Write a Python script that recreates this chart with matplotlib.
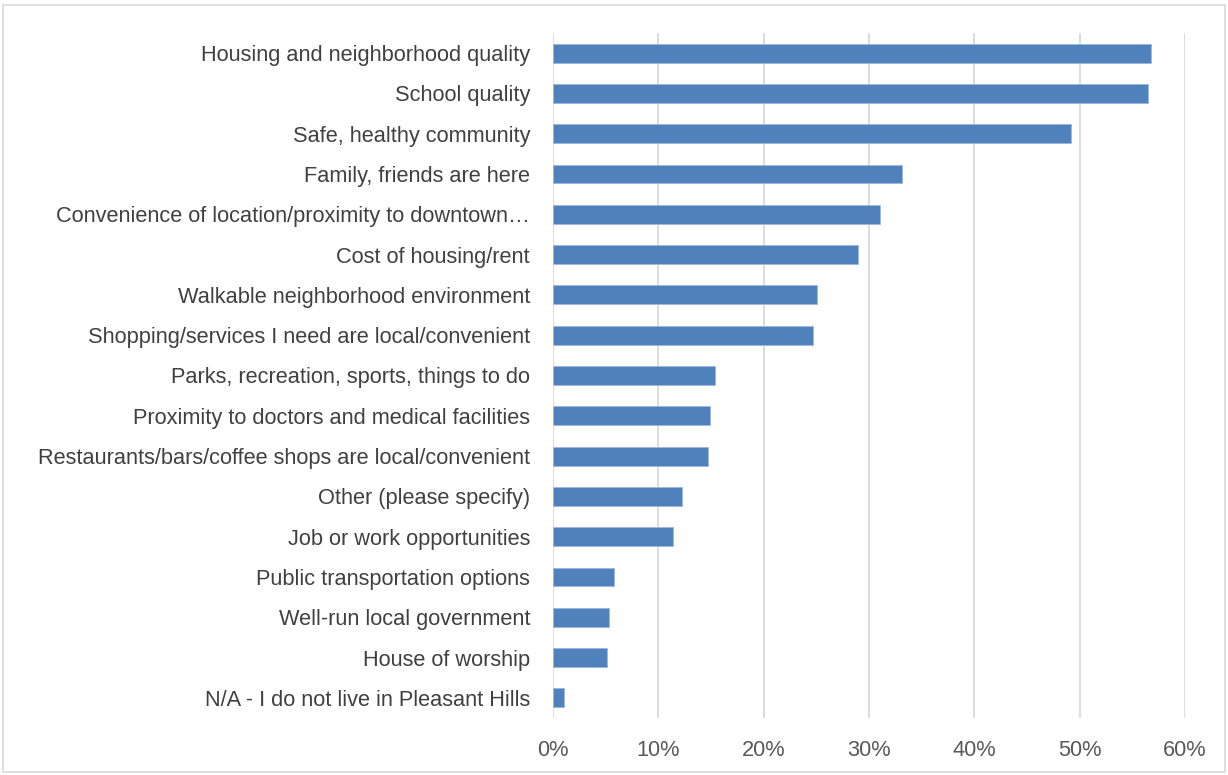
import matplotlib.pyplot as plt
import matplotlib.patches as mpatches
from matplotlib.ticker import PercentFormatter

categories = [
    "Housing and neighborhood quality",
    "School quality",
    "Safe, healthy community",
    "Family, friends are here",
    "Convenience of location/proximity to downtown\u2026",
    "Cost of housing/rent",
    "Walkable neighborhood environment",
    "Shopping/services I need are local/convenient",
    "Parks, recreation, sports, things to do",
    "Proximity to doctors and medical facilities",
    "Restaurants/bars/coffee shops are local/convenient",
    "Other (please specify)",
    "Job or work opportunities",
    "Public transportation options",
    "Well-run local government",
    "House of worship",
    "N/A - I do not live in Pleasant Hills",
]
shares = [0.568, 0.565, 0.492, 0.331, 0.310, 0.290, 0.251, 0.247,
          0.154, 0.149, 0.147, 0.122, 0.114, 0.058, 0.053, 0.051, 0.010]
xticks = [0, 0.1, 0.2, 0.3, 0.4, 0.5, 0.6]

plt.rcParams['font.family'] = ['Liberation Sans', 'DejaVu Sans']

fig = plt.figure(figsize=(12.28, 7.75), dpi=100)
ax = fig.add_axes([553 / 1228, 1 - 718 / 775, (1185 - 553) / 1228, (718 - 33) / 775])

pos = list(range(len(categories)))
ax.barh(pos, shares, height=0.47, color="#4F81BD", edgecolor="#9DB9DD",
        linewidth=0.6, zorder=3)
ax.set_yticks(pos)
ax.set_yticklabels(categories)
ax.set_ylim(len(categories) - 0.5, -0.5)
ax.set_xlim(0, 0.6)
ax.set_xticks(xticks)
ax.xaxis.set_major_formatter(PercentFormatter(1.0, decimals=0))
ax.grid(axis="x", color="#D9D9D9", linewidth=1.3, zorder=0)
for s in ax.spines.values():
    s.set_visible(False)
ax.tick_params(axis="both", length=0, labelsize=15.7, colors="#404040")
ax.tick_params(axis="y", pad=16.5)
ax.tick_params(axis="x", pad=16, colors="#595959")

fig.patches.append(mpatches.Rectangle((3 / 1228, 3 / 775), 1 - 6 / 1228, 1 - 8 / 775,
                                      transform=fig.transFigure, fill=False,
                                      edgecolor="#D9D9D9", linewidth=1.2))

fig.savefig("out.png", dpi=100)
